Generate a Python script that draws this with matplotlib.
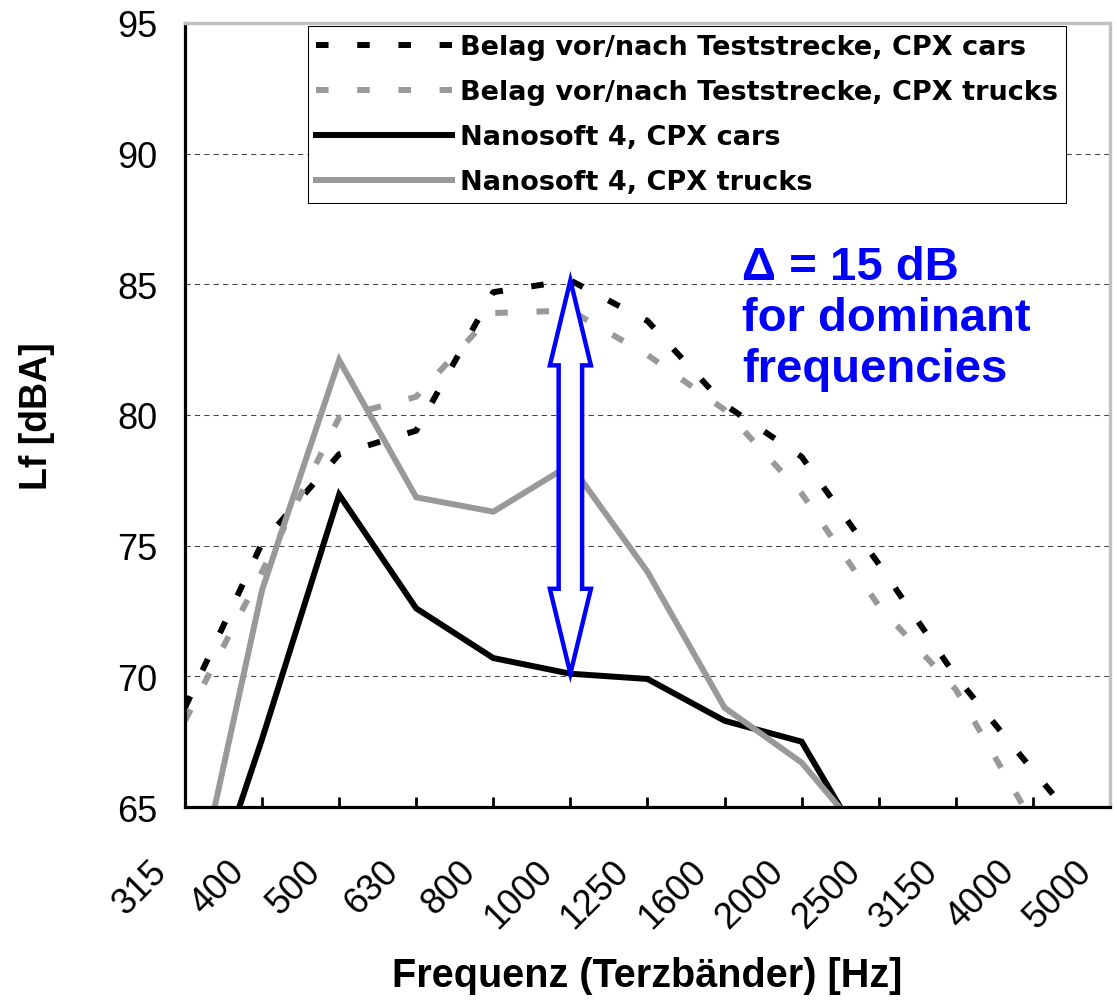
import numpy as np
import matplotlib
matplotlib.use("Agg")
import matplotlib.pyplot as plt
from matplotlib.patches import Polygon

# third-octave band centre frequencies (category axis)
FREQ_LABELS = ["315", "400", "500", "630", "800", "1000", "1250",
               "1600", "2000", "2500", "3150", "4000", "5000"]

# Lf [dBA]; NaN = below the 65 dB floor / not visible
BELAG_CARS = [68.8, 75.1, 78.5, 79.4, 84.7, 85.15, 83.6, 80.4, 78.4, 74.3, 70.0, 66.4, 62.9]
BELAG_TRUCKS = [68.3, 74.0, 79.9, 80.7, 83.9, 84.0, 82.3, 80.2, 77.0, 72.7, 69.5, 64.4, np.nan]
NANO_CARS = [58.8, 67.6, 76.95, 72.6, 70.7, 70.1, 69.9, 68.3, 67.5, 62.5, np.nan, np.nan, np.nan]
NANO_TRUCKS = [59.8, 73.3, 82.1, 76.85, 76.3, 78.1, 74.0, 68.8, 66.7, 63.2, np.nan, np.nan, np.nan]

SERIES_NAMES = ["Belag vor/nach Teststrecke, CPX cars",
                "Belag vor/nach Teststrecke, CPX trucks",
                "Nanosoft 4, CPX cars",
                "Nanosoft 4, CPX trucks"]
DELTA_TEXT = "Δ = 15 dB\nfor dominant\nfrequencies"

BLACK = "#000000"
GREY = "#999999"
BLUE = "#0000ff"
DASH = (0, (2.1, 4.8))

plt.rcParams["font.family"] = ["Liberation Sans", "DejaVu Sans"]

fig = plt.figure(figsize=(11.17, 10.03), dpi=100)
ax = fig.add_axes([0.1656, 0.1944, 0.8281, 0.7817])

x = np.arange(len(FREQ_LABELS))
lw = 4.3
ax.plot(x, BELAG_CARS, color=BLACK, lw=lw, ls=DASH, dash_capstyle="butt", label=SERIES_NAMES[0])
ax.plot(x, BELAG_TRUCKS, color=GREY, lw=lw, ls=DASH, dash_capstyle="butt", label=SERIES_NAMES[1])
ax.plot(x, NANO_CARS, color=BLACK, lw=lw, solid_joinstyle="miter", label=SERIES_NAMES[2])
ax.plot(x, NANO_TRUCKS, color=GREY, lw=lw, solid_joinstyle="miter", label=SERIES_NAMES[3])

ax.set_xlim(0, len(FREQ_LABELS) - 1)
ax.set_ylim(65, 95)
ax.set_yticks(np.arange(65, 96, 5))
ax.set_xticks(x)
ax.tick_params(axis="x", direction="in", length=7.2, width=2, labelbottom=False)
ax.tick_params(axis="y", length=0, pad=20, labelsize=26)
ax.yaxis.grid(True, color="#444444", lw=0.75, ls=(0, (5, 4)))
ax.set_axisbelow(True)

for side in ("left", "bottom"):
    ax.spines[side].set_color(BLACK)
    ax.spines[side].set_linewidth(2.3)
for side in ("top", "right"):
    ax.spines[side].set_color("#c0c0c0")
    ax.spines[side].set_linewidth(2.4)

# rotated category labels, right end anchored below/left of each tick
for i, lab in enumerate(FREQ_LABELS):
    ax.annotate(lab, xy=(i, 0), xycoords=ax.get_xaxis_transform(),
                xytext=(-19.0, -40.0), textcoords="offset points",
                rotation=45, rotation_mode="anchor", ha="right",
                va="center_baseline", fontsize=26, annotation_clip=False)

ax.set_ylabel("Lf [dBA]", fontsize=27, fontweight="bold")
ax.yaxis.set_label_coords(-0.1405, 0.5)
ax.set_xlabel("Frequenz (Terzbänder) [Hz]", fontsize=28.5, fontweight="bold")
ax.xaxis.set_label_coords(0.5, -0.19)

# hollow double arrow spanning the gap at 1000 Hz
i0 = FREQ_LABELS.index("1000")
y_lo, y_hi = NANO_CARS[i0], BELAG_CARS[i0]
hw, sw, hl = 0.266, 0.152, 3.25
verts = [(i0, y_hi), (i0 + hw, y_hi - hl), (i0 + sw, y_hi - hl),
         (i0 + sw, y_lo + hl), (i0 + hw, y_lo + hl), (i0, y_lo),
         (i0 - hw, y_lo + hl), (i0 - sw, y_lo + hl), (i0 - sw, y_hi - hl),
         (i0 - hw, y_hi - hl)]
ax.add_patch(Polygon(verts, closed=True, fc="white", ec=BLUE, lw=3.2,
                     joinstyle="miter", zorder=5))

ax.text(7.23, 86.5, DELTA_TEXT, color=BLUE, fontsize=34, fontweight="bold",
        va="top", ha="left", linespacing=1.2, zorder=6)

leg = ax.legend(loc="upper left", bbox_to_anchor=(0.133, 0.996),
                prop=dict(family="DejaVu Sans", weight="bold", size=19.5),
                handlelength=5.0, handletextpad=0.3, labelspacing=0.7,
                borderpad=0.3, borderaxespad=0, fancybox=False,
                edgecolor=BLACK, framealpha=1)
leg.get_frame().set_linewidth(0.75)

fig.savefig("out.png", dpi=100)
